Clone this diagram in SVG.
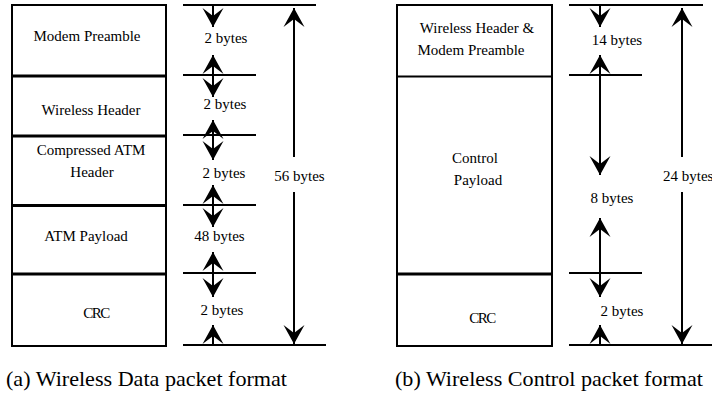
<svg xmlns="http://www.w3.org/2000/svg" width="712" height="410" viewBox="0 0 712 410">
  <style>
    text { font-family: 'Liberation Serif', Tinos, 'Times New Roman', Times, 'Nimbus Roman', 'Nimbus Roman No9 L', 'Noto Serif', FreeSerif, 'DejaVu Serif', serif; font-size: 15px; fill: #000; }
    .mid { text-anchor: middle; }
    .cap { font-size: 22px; }
    .crc { letter-spacing: -1.5px; }
    .box { fill: #fff; stroke: #000; stroke-width: 2; }
    .div { stroke: #000; stroke-width: 3.2; }
    .thin { stroke: #000; stroke-width: 2; }
    .rule { stroke: #000; stroke-width: 2; fill: none; }
    .dim { stroke: #000; stroke-width: 2; fill: none; }
    .one { marker-end: url(#head); }
    .two { marker-start: url(#head); marker-end: url(#head); }
    .beg { marker-start: url(#head); }
  </style>
  <defs>
    <marker id="head" markerUnits="userSpaceOnUse" markerWidth="24" markerHeight="24" refX="0" refY="0" orient="auto-start-reverse" overflow="visible">
      <path d="M0,0 L-19,-10.5 L-11,0 L-19,10.5 Z" fill="#000"/>
    </marker>
  </defs>

  <rect width="712" height="410" fill="#fff"/>

  <!-- (a) data packet -->
  <g id="data-packet">
    <rect class="box" x="12" y="5" width="154" height="341"/>
    <g id="a-modem-preamble">
      <text class="mid" x="87" y="41">Modem Preamble</text>
    </g>
    <g id="a-wireless-header">
      <line class="div" x1="12" y1="76" x2="166" y2="76"/>
      <text class="mid" x="91" y="115">Wireless Header</text>
    </g>
    <g id="a-atm-header">
      <line class="div" x1="12" y1="136" x2="166" y2="136"/>
      <text class="mid" x="91" y="155">Compressed ATM</text>
      <text class="mid" x="92" y="177">Header</text>
    </g>
    <g id="a-atm-payload">
      <line class="div" x1="12" y1="205.5" x2="166" y2="205.5"/>
      <text class="mid" x="86" y="241">ATM Payload</text>
    </g>
    <g id="a-crc">
      <line class="div" x1="12" y1="274" x2="166" y2="274"/>
      <text class="mid crc" x="96" y="318">CRC</text>
    </g>
  </g>

  <!-- (b) control packet -->
  <g id="control-packet">
    <rect class="box" x="397" y="5" width="155" height="341"/>
    <g id="b-header-preamble">
      <text class="mid" x="477" y="33">Wireless Header &amp;</text>
      <text class="mid" x="471" y="55">Modem Preamble</text>
    </g>
    <g id="b-control-payload">
      <line class="thin" x1="397" y1="76.5" x2="552" y2="76.5"/>
      <text class="mid" x="475" y="163">Control</text>
      <text class="mid" x="478" y="185">Payload</text>
    </g>
    <g id="b-crc">
      <line class="div" x1="397" y1="274" x2="552" y2="274"/>
      <text class="mid crc" x="482" y="323">CRC</text>
    </g>
  </g>

  <!-- dimension lines and arrows -->
  <g id="connectors">
    <!-- (a) extension rules -->
    <line class="rule" x1="183" y1="5" x2="316" y2="5"/>
    <line class="rule" x1="183" y1="75" x2="256" y2="75"/>
    <line class="rule" x1="183" y1="135" x2="256" y2="135"/>
    <line class="rule" x1="183" y1="205" x2="256" y2="205"/>
    <line class="rule" x1="183" y1="273" x2="256" y2="273"/>
    <line class="rule" x1="183" y1="345" x2="326" y2="345"/>
    <!-- (a) per-field arrows -->
    <line class="dim one" x1="213" y1="5" x2="213" y2="27"/>
    <line class="dim two" x1="213" y1="55" x2="213" y2="97"/>
    <line class="dim two" x1="213" y1="120" x2="213" y2="160"/>
    <line class="dim two" x1="213" y1="185" x2="213" y2="227"/>
    <line class="dim two" x1="213" y1="252" x2="213" y2="297"/>
    <line class="dim beg" x1="213" y1="325" x2="213" y2="345"/>
    <!-- (a) total arrows -->
    <line class="dim one" x1="294" y1="157" x2="294" y2="8"/>
    <line class="dim one" x1="294" y1="192" x2="294" y2="344"/>

    <!-- (b) extension rules -->
    <line class="rule" x1="569" y1="5" x2="703" y2="5"/>
    <line class="rule" x1="569" y1="75" x2="642" y2="75"/>
    <line class="rule" x1="569" y1="273" x2="642" y2="273"/>
    <line class="rule" x1="569" y1="345" x2="712" y2="345"/>
    <!-- (b) per-field arrows -->
    <line class="dim one" x1="600" y1="5" x2="600" y2="27"/>
    <line class="dim two" x1="600" y1="55" x2="600" y2="175"/>
    <line class="dim two" x1="600" y1="218" x2="600" y2="297"/>
    <line class="dim beg" x1="600" y1="325" x2="600" y2="345"/>
    <!-- (b) total arrows -->
    <line class="dim one" x1="682" y1="157" x2="682" y2="8"/>
    <line class="dim one" x1="682" y1="192" x2="682" y2="344"/>
  </g>

  <!-- size labels -->
  <g id="sizes">
    <text class="mid" x="226" y="43">2 bytes</text>
    <text class="mid" x="225" y="109">2 bytes</text>
    <text class="mid" x="224" y="178">2 bytes</text>
    <text class="mid" x="219.5" y="241">48 bytes</text>
    <text class="mid" x="222" y="315">2 bytes</text>
    <text class="mid" x="299.5" y="181">56 bytes</text>
    <text class="mid" x="617" y="45">14 bytes</text>
    <text class="mid" x="612" y="203">8 bytes</text>
    <text class="mid" x="622" y="316">2 bytes</text>
    <text x="663" y="181">24 bytes</text>
  </g>

  <!-- captions -->
  <text class="cap" x="6" y="386" textLength="281" lengthAdjust="spacingAndGlyphs">(a) Wireless Data packet format</text>
  <text class="cap" x="395" y="386" textLength="308" lengthAdjust="spacingAndGlyphs">(b) Wireless Control packet format</text>
</svg>
